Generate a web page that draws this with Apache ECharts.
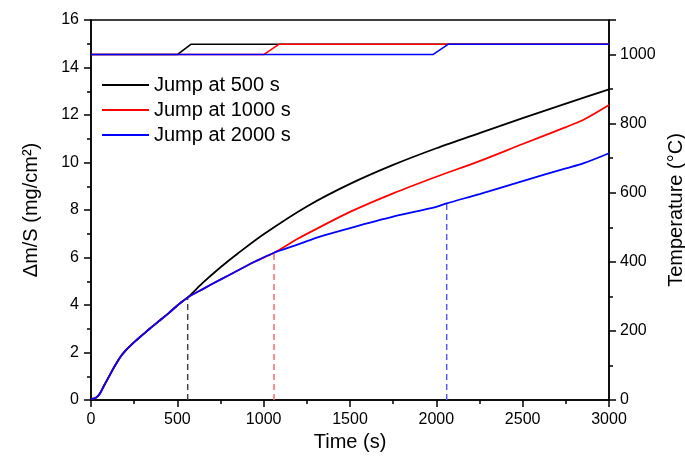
<!DOCTYPE html>
<html>
<head>
<meta charset="utf-8">
<script src="https://cdn.jsdelivr.net/npm/echarts@6/dist/echarts.min.js"></script>
<style>html,body{margin:0;padding:0;background:#fff}#c{width:685px;height:462px}</style>
</head>
<body>
<div id="c"></div>
<script>
// ---- data ----
const seriesNames = ['Jump at 500 s', 'Jump at 1000 s', 'Jump at 2000 s'];
const timeBlack = [0,25,50,75,100,125,150,175,200,230,260,300,340,400,450,500,560,650,752,850,1000,1250,1500,1750,2000,2250,2500,2750,3000];
const massBlack = [0.05,0.08,0.25,0.6,0.93,1.27,1.58,1.86,2.08,2.3,2.5,2.75,3.0,3.36,3.66,3.98,4.32,4.95,5.6,6.17,6.98,8.15,9.1,9.9,10.6,11.24,11.87,12.48,13.08];
const timeRed = [0,25,50,75,100,125,150,175,200,230,260,300,340,400,450,500,560,650,752,850,950,1060,1200,1326,1500,1750,2000,2250,2500,2750,2850,3000];
const massRed = [0.05,0.08,0.25,0.6,0.93,1.27,1.58,1.86,2.08,2.3,2.5,2.75,3.0,3.36,3.66,3.98,4.32,4.68,5.08,5.45,5.83,6.2,6.8,7.28,7.92,8.7,9.4,10.06,10.78,11.49,11.79,12.42];
const timeBlue = [0,25,50,75,100,125,150,175,200,230,260,300,340,400,450,500,560,650,752,850,950,1060,1200,1326,1500,1750,2000,2060,2250,2500,2750,2850,3000];
const massBlue = [0.05,0.08,0.25,0.6,0.93,1.27,1.58,1.86,2.08,2.3,2.5,2.75,3.0,3.36,3.66,3.98,4.32,4.68,5.08,5.45,5.83,6.2,6.55,6.88,7.24,7.72,8.13,8.28,8.67,9.22,9.75,9.96,10.39];
const tempTimeBlack = [0,500,580,3000];
const tempBlack = [1000,1000,1030,1030];
const tempTimeRed = [0,1000,1090,3000];
const tempRed = [1000,1000,1030,1030];
const tempTimeBlue = [0,1980,2070,3000];
const tempBlue = [1000,1000,1030,1030];
const jumpTimes = [560, 1060, 2060];
const jumpMass = [4.32, 6.2, 8.28];
const colors = ['#000000', '#ff0000', '#0000ff'];
const dashColors = ['#444444', '#ff6b6b', '#5a5aff'];

const pair = (xs, ys) => xs.map((x, i) => [x, ys[i]]);
const FONT = '"Liberation Sans", Arial, sans-serif';

const massSets = [[timeBlack, massBlack], [timeRed, massRed], [timeBlue, massBlue]];
const tempSets = [[tempTimeBlack, tempBlack], [tempTimeRed, tempRed], [tempTimeBlue, tempBlue]];

const series = [];
tempSets.forEach((s, i) => {
  series.push({
    name: 'T' + i, type: 'line', yAxisIndex: 1, symbol: 'none',
    data: pair(s[0], s[1]), lineStyle: { color: colors[i], width: 1.6 }, z: 2 + i, silent: true
  });
});
jumpTimes.forEach((t, i) => {
  series.push({
    name: 'D' + i, type: 'line', symbol: 'none',
    data: [[t, 0], [t, jumpMass[i]]],
    lineStyle: { color: dashColors[i], width: 1.5, type: [6, 4] }, z: 2, silent: true
  });
});
massSets.forEach((s, i) => {
  series.push({
    name: seriesNames[i], type: 'line', symbol: 'none', showSymbol: false, smooth: 0.3,
    data: pair(s[0], s[1]), lineStyle: { color: colors[i], width: 1.8 }, itemStyle: { color: colors[i] }, z: 5 + i
  });
});

const axisCommon = {
  axisLine: { show: true, lineStyle: { color: '#000', width: 1.5 } },
  axisTick: { show: true, inside: false, length: 7, lineStyle: { color: '#000', width: 1.5 } },
  minorTick: { show: true, splitNumber: 2, length: 4, lineStyle: { color: '#000', width: 1.5 } },
  splitLine: { show: false },
  axisLabel: { color: '#000', fontSize: 16, fontFamily: FONT, formatter: v => String(v) },
  nameTextStyle: { color: '#000', fontSize: 20, fontFamily: FONT }
};

const chart = echarts.init(document.getElementById('c'), null, { renderer: 'canvas' });
chart.setOption({
  animation: false,
  backgroundColor: '#fff',
  grid: { left: 91, right: 76, top: 20, bottom: 62, outerBoundsMode: 'none', containLabel: false, show: true, borderColor: '#000', borderWidth: 1.5, backgroundColor: 'transparent' },
  legend: {
    data: seriesNames.map((n, i) => ({ name: n, icon: 'rect', itemStyle: { color: colors[i] } })),
    orient: 'vertical', left: 97, top: 70,
    itemWidth: 47, itemHeight: 2, itemGap: 5,
    textStyle: { color: '#000', fontSize: 20, fontFamily: FONT, lineHeight: 20 }
  },
  xAxis: Object.assign({}, axisCommon, {
    type: 'value', min: 0, max: 3000, interval: 500,
    name: 'Time (s)', nameLocation: 'middle', nameGap: 30,
    axisLabel: Object.assign({}, axisCommon.axisLabel, { margin: 12 })
  }),
  yAxis: [
    Object.assign({}, axisCommon, {
      type: 'value', min: 0, max: 16, interval: 2, position: 'left',
      name: 'Δm/S (mg/cm²)', nameLocation: 'middle', nameGap: 50, nameRotate: 90,
      axisLabel: Object.assign({}, axisCommon.axisLabel, { margin: 12 })
    }),
    Object.assign({}, axisCommon, {
      type: 'value', min: 0, max: 1100, interval: 200, position: 'right',
      name: 'Temperature (°C)', nameLocation: 'middle', nameGap: 52, nameRotate: 90,
      axisLabel: Object.assign({}, axisCommon.axisLabel, { margin: 11, showMaxLabel: false })
    })
  ],
  series: series
});
</script>
</body>
</html>
